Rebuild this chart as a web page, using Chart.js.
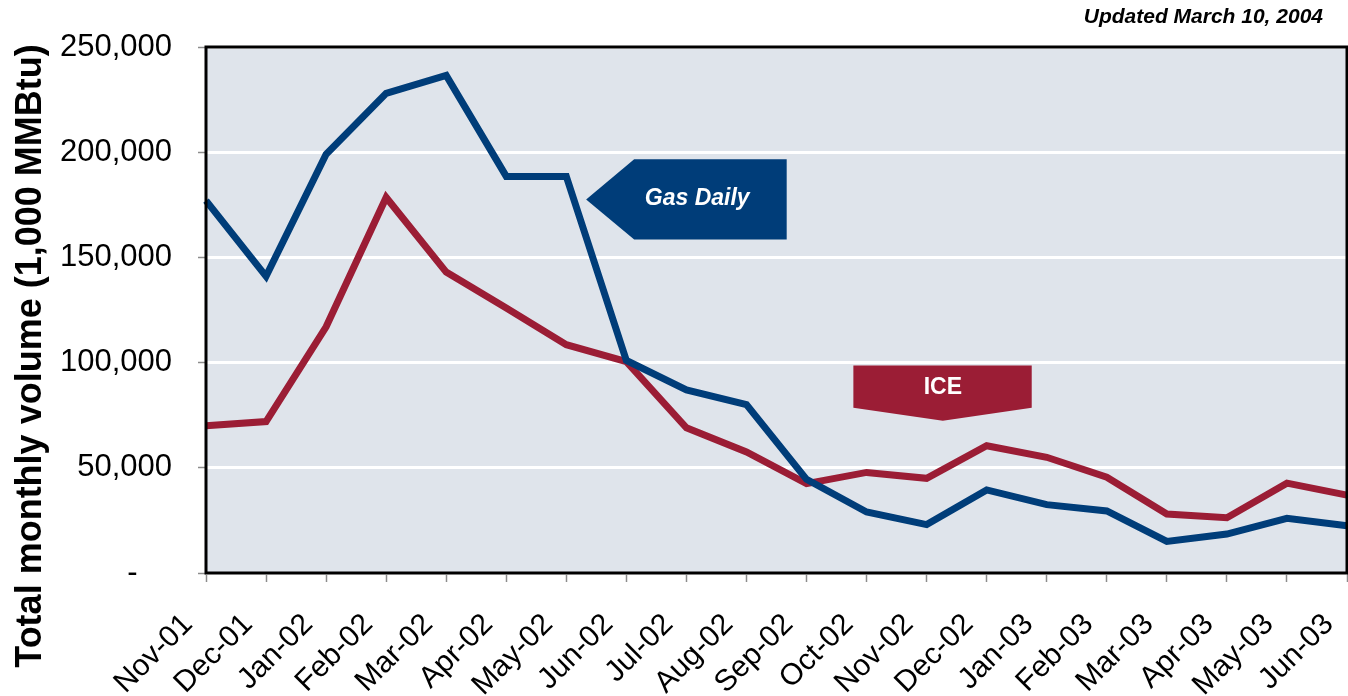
<!DOCTYPE html>
<html>
<head>
<meta charset="utf-8">
<script src="https://cdn.jsdelivr.net/npm/chart.js@4.4.1/dist/chart.umd.min.js"></script>
<style>
  html, body { margin: 0; padding: 0; background: #fff; }
  #wrap { width: 1348px; height: 696px; }
</style>
</head>
<body>
<div id="wrap"><canvas id="volumeChart" width="1348" height="696"></canvas></div>
<script>
const months = ['Nov-01', 'Dec-01', 'Jan-02', 'Feb-02', 'Mar-02', 'Apr-02', 'May-02', 'Jun-02', 'Jul-02', 'Aug-02',
                'Sep-02', 'Oct-02', 'Nov-02', 'Dec-02', 'Jan-03', 'Feb-03', 'Mar-03', 'Apr-03', 'May-03', 'Jun-03'];
const gasDaily = [177000, 141000, 199000, 228000, 236500, 188500, 188500, 101000, 87000, 80000,
                  44500, 29000, 23000, 39500, 32500, 29500, 15000, 18500, 26000, 22500];
const ice = [70000, 72000, 117000, 178500, 143000, 126000, 108500, 100500, 69000, 57500,
             42500, 47800, 45000, 60500, 55000, 45500, 28000, 26300, 42700, 37000];
const yTicks = [0, 50000, 100000, 150000, 200000, 250000];

const FONT = 'Arial, "Liberation Sans", sans-serif';
const BLUE = '#003d79';
const RED = '#9b1d35';

// plot background, frame and the two callout labels
const frameAndNotes = {
    id: 'frameAndNotes',
    beforeDraw(chart) {
        const { ctx, chartArea: a } = chart;
        ctx.save();
        ctx.fillStyle = '#dfe4eb';
        ctx.fillRect(a.left, a.top, a.right - a.left, a.bottom - a.top);
        ctx.restore();
    },
    afterDatasetsDraw(chart) {
        const { ctx, chartArea: a, scales } = chart;
        const x = scales.x, y = scales.y;
        ctx.save();

        // Gas Daily arrow (points left)
        ctx.fillStyle = BLUE;
        ctx.beginPath();
        ctx.moveTo(x.getPixelForValue(6.33), y.getPixelForValue(177500));
        ctx.lineTo(x.getPixelForValue(7.13), y.getPixelForValue(196700));
        ctx.lineTo(x.getPixelForValue(9.67), y.getPixelForValue(196700));
        ctx.lineTo(x.getPixelForValue(9.67), y.getPixelForValue(158500));
        ctx.lineTo(x.getPixelForValue(7.13), y.getPixelForValue(158500));
        ctx.closePath();
        ctx.fill();
        ctx.fillStyle = '#fff';
        ctx.font = 'italic bold 23px ' + FONT;
        ctx.textAlign = 'center';
        ctx.textBaseline = 'middle';
        ctx.fillText('Gas Daily', x.getPixelForValue(8.18), y.getPixelForValue(178000));

        // ICE arrow (points down)
        ctx.fillStyle = RED;
        ctx.beginPath();
        ctx.moveTo(x.getPixelForValue(10.78), y.getPixelForValue(98600));
        ctx.lineTo(x.getPixelForValue(13.75), y.getPixelForValue(98600));
        ctx.lineTo(x.getPixelForValue(13.75), y.getPixelForValue(78600));
        ctx.lineTo(x.getPixelForValue(12.27), y.getPixelForValue(72400));
        ctx.lineTo(x.getPixelForValue(10.78), y.getPixelForValue(78600));
        ctx.closePath();
        ctx.fill();
        ctx.fillStyle = '#fff';
        ctx.font = 'bold 23px ' + FONT;
        ctx.fillText('ICE', x.getPixelForValue(12.27), y.getPixelForValue(88300));

        // frame
        ctx.strokeStyle = '#000';
        ctx.lineWidth = 3;
        ctx.strokeRect(a.left, a.top, a.right - a.left, a.bottom - a.top);
        ctx.restore();
    },
    afterDraw(chart) {
        const { ctx } = chart;
        ctx.save();
        ctx.fillStyle = '#000';
        ctx.font = 'italic bold 21px ' + FONT;
        ctx.textAlign = 'right';
        ctx.textBaseline = 'middle';
        ctx.fillText('Updated March 10, 2004', 1323, 17);

        ctx.translate(31, 356);
        ctx.rotate(-Math.PI / 2);
        ctx.font = 'bold 36px ' + FONT;
        ctx.textAlign = 'center';
        ctx.fillText('Total monthly volume (1,000 MMBtu)', 0, 0);
        ctx.restore();
    }
};

const ctx = document.getElementById('volumeChart').getContext('2d');
new Chart(ctx, {
    type: 'line',
    data: {
        labels: months,
        datasets: [
            {
                label: 'Gas Daily',
                data: gasDaily,
                borderColor: BLUE,
                borderWidth: 7,
                pointRadius: 0,
                tension: 0,
                fill: false
            },
            {
                label: 'ICE',
                data: ice,
                borderColor: RED,
                borderWidth: 7,
                pointRadius: 0,
                tension: 0,
                fill: false
            }
        ]
    },
    options: {
        responsive: false,
        animation: false,
        devicePixelRatio: 1,
        layout: { padding: { top: 47, right: 1, left: 0, bottom: 0 } },
        plugins: {
            legend: { display: false },
            tooltip: { enabled: false }
        },
        scales: {
            x: {
                offset: false,
                border: { display: false },
                grid: {
                    drawOnChartArea: false,
                    drawTicks: true,
                    tickLength: 9,
                    tickColor: '#8c8c8c',
                    tickWidth: 1.5
                },
                ticks: {
                    autoSkip: false,
                    maxRotation: 45,
                    minRotation: 45,
                    color: '#000',
                    padding: 25,
                    labelOffset: -18,
                    font: { family: FONT, size: 30 }
                },
                afterFit: s => { s.height = 123; s.paddingLeft = 0; s.paddingRight = 0; }
            },
            y: {
                min: 0,
                max: 250000,
                border: { display: false },
                grid: {
                    color: '#ffffff',
                    lineWidth: 3,
                    tickColor: '#8c8c8c',
                    tickWidth: 1.5,
                    tickLength: 8
                },
                afterBuildTicks: s => { s.ticks = yTicks.map(v => ({ value: v })); },
                ticks: {
                    color: '#000',
                    padding: 26,
                    font: { family: FONT, size: 31 },
                    callback: v => v === 0 ? '-    ' : v.toLocaleString('en-US')
                },
                afterFit: s => { s.width = 206; s.paddingTop = 0; s.paddingBottom = 0; }
            }
        }
    },
    plugins: [frameAndNotes]
});
</script>
</body>
</html>
